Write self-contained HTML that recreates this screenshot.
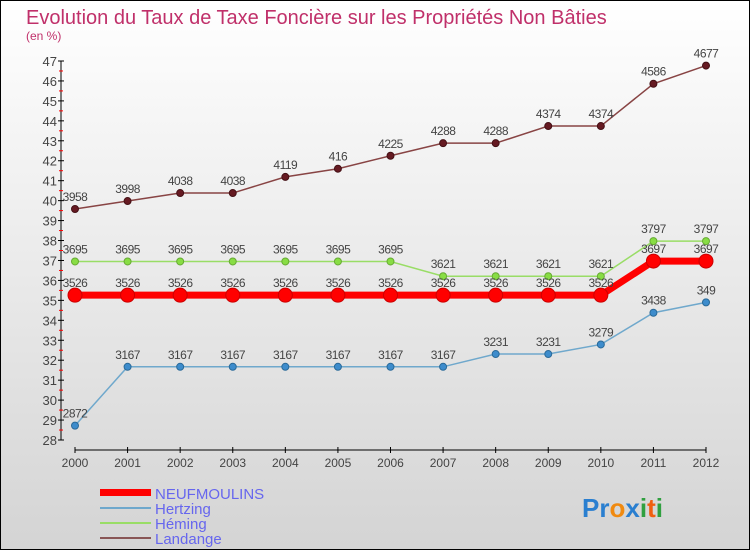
<!DOCTYPE html>
<html><head><meta charset="utf-8"><style>
body{margin:0}
#wrap{width:750px;height:550px;position:relative;overflow:hidden;font-family:"Liberation Sans",sans-serif}
</style></head><body>
<div id="wrap">
<svg id="svg" width="750" height="550" xmlns="http://www.w3.org/2000/svg">
<defs><linearGradient id="bg" x1="0" y1="0" x2="0" y2="1"><stop offset="0" stop-color="#ffffff"/><stop offset="1" stop-color="#d4d4d4"/></linearGradient></defs>
<rect x="0.5" y="0.5" width="749" height="549" fill="url(#bg)" stroke="#000"/>
<text x="26" y="24" font-size="20" fill="#c0306a">Evolution du Taux de Taxe Foncière sur les Propriétés Non Bâties</text>
<text x="26" y="40" font-size="12" fill="#c0306a">(en %)</text>
<g id="axes"></g><g id="series"></g>
<g>
<rect x="100" y="489" width="51" height="7" fill="#f00"/>
<text x="155" y="499" font-size="15" fill="#6666ee">NEUFMOULINS</text>
<rect x="100" y="507" width="51" height="2" fill="#6fa8cc"/>
<text x="155" y="514" font-size="15" fill="#6666ee">Hertzing</text>
<rect x="100" y="522" width="51" height="2" fill="#99dd66"/>
<text x="155" y="529" font-size="15" fill="#6666ee">Héming</text>
<rect x="100" y="537" width="51" height="2" fill="#885555"/>
<text x="155" y="544" font-size="15" fill="#6666ee">Landange</text>
</g>
<text x="582" y="517" font-size="26" font-weight="bold"><tspan fill="#2a7fd0">Pr</tspan><tspan fill="#f08a10">o</tspan><tspan fill="#2a7fd0">x</tspan><tspan fill="#30a040">i</tspan><tspan fill="#f06010">t</tspan><tspan fill="#30a040">i</tspan></text>
</svg></div>
<script>
const years=["2000","2001","2002","2003","2004","2005","2006","2007","2008","2009","2010","2011","2012"];
const neufmoulins=[35.26,35.26,35.26,35.26,35.26,35.26,35.26,35.26,35.26,35.26,35.26,36.97,36.97];
const hertzing=[28.72,31.67,31.67,31.67,31.67,31.67,31.67,31.67,32.31,32.31,32.79,34.38,34.9];
const heming=[36.95,36.95,36.95,36.95,36.95,36.95,36.95,36.21,36.21,36.21,36.21,37.97,37.97];
const landange=[39.58,39.98,40.38,40.38,41.19,41.6,42.25,42.88,42.88,43.74,43.74,45.86,46.77];
const yTicks=[28,29,30,31,32,33,34,35,36,37,38,39,40,41,42,43,44,45,46,47];
const NS="http://www.w3.org/2000/svg";
const xS=i=>75+i*(706-75)/(years.length-1);
const yS=v=>61+(47-v)*(440-61)/19;
function mk(t,a,p){const e=document.createElementNS(NS,t);for(const k in a)e.setAttribute(k,a[k]);p.appendChild(e);return e;}
const ax=document.getElementById('axes');
let l=mk('line',{x1:61,y1:yS(47),x2:61,y2:yS(28),stroke:'#000'},ax);


l=mk('line',{x1:75,y1:450,x2:706,y2:450,stroke:'#000'},ax);


yTicks.forEach(v=>{
 mk('line',{x1:58,y1:yS(v),x2:64,y2:yS(v),stroke:'#000'},ax);
 if(v<47)mk('line',{x1:59,y1:yS(v+0.5),x2:63,y2:yS(v+0.5),stroke:'#f00'},ax);
 const t=mk('text',{x:57,y:yS(v)+5,'font-size':13,fill:'#444','text-anchor':'end'},ax);t.textContent=v;
 
 
});
years.forEach((y,i)=>{
 mk('line',{x1:xS(i),y1:447,x2:xS(i),y2:453,stroke:'#000'},ax);
 const t=mk('text',{x:xS(i),y:467,'font-size':12,fill:'#444','text-anchor':'middle'},ax);t.textContent=y;
 
 
});
const sg=document.getElementById('series');
function series(name,vals,color,w,r,dot,dotStroke){
 const g=mk('g',{},sg);
 
 
 const p=mk('polyline',{points:vals.map((v,i)=>xS(i)+','+yS(v)).join(' '),fill:'none',stroke:color,'stroke-width':w},g);
 
 
 vals.forEach((v,i)=>{
  const c=mk('circle',{cx:xS(i),cy:yS(v),r:r,fill:dot,stroke:dotStroke,'stroke-width':1},g);
  
  
  const t=mk('text',{x:xS(i),y:yS(v)-8,'font-size':12,fill:'#444','text-anchor':'middle','letter-spacing':'-0.5'},g);
  t.textContent=String(v).replace('.','');
  
  
 });
}
series('landange',landange,'#884444',1.5,3.5,'#661a22','#441015');
series('heming',heming,'#99dd66',1.5,3.5,'#88dd44','#66aa33');
series('hertzing',hertzing,'#6fa8cc',1.5,3.5,'#3d8ccc','#2a6a99');
series('neufmoulins',neufmoulins,'#ff0000',7,7,'#ff0000','#cc0000');
</script>
</body></html>
